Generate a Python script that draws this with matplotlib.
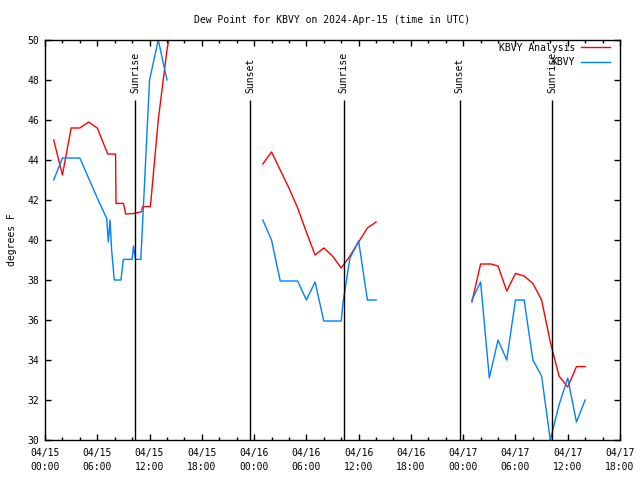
import numpy as np
import matplotlib
matplotlib.use('Agg')
import matplotlib.pyplot as plt

# hours since 2024-04-15 00:00 UTC, nan marks a gap in the record
analysis_hours = [1, 2, 3, 4, 5, 6, 7.2, 8.1, 8.15, 9.0, 9.26, 10.25, 11.1, 11.2, 12.1, 13, 14, 15,
                  np.nan,
                  25, 26, 27, 28, 29, 30, 31, 32, 33, 34, 35, 36, 37, 38,
                  np.nan,
                  49, 50, 51.2, 52, 53, 54, 55, 56, 57, 58, 59, 60, 61, 62]
analysis_dewpt = [45.0, 43.25, 45.6, 45.6, 45.9, 45.6, 44.3, 44.3, 41.83, 41.83, 41.3, 41.33, 41.42, 41.67, 41.67, 46.0, 49.5, 52.0,
                  np.nan,
                  43.8, 44.4, 43.5, 42.6, 41.6, 40.4, 39.25, 39.6, 39.2, 38.6, 39.2, 39.9, 40.6, 40.9,
                  np.nan,
                  36.9, 38.8, 38.8, 38.7, 37.45, 38.33, 38.2, 37.83, 37.0, 34.9, 33.2, 32.65, 33.67, 33.67]

obs_hours = [1, 2, 4, 5, 6, 7.08, 7.27, 7.46, 7.65, 7.95, 8.72, 8.99, 10.0, 10.15, 10.4, 11, 12, 13, 14,
             np.nan,
             25, 26, 27, 28, 29, 30, 31, 32, 33, 34, 34.2, 35, 36, 37, 38,
             np.nan,
             49, 50, 51, 52, 53, 54, 55, 56, 57, 58, 59, 60, 61, 62]
obs_dewpt = [43.0, 44.1, 44.1, 43.1, 42.1, 41.08, 39.9, 41.0, 39.5, 38.0, 38.0, 39.03, 39.03, 39.7, 39.03, 39.03, 48.0, 50.0, 48.0,
             np.nan,
             41.0, 40.0, 37.95, 37.95, 37.95, 37.0, 37.9, 35.95, 35.95, 35.95, 36.85, 39.1, 39.95, 37.0, 37.0,
             np.nan,
             37.0, 37.9, 33.1, 35.0, 34.0, 37.0, 37.0, 34.0, 33.2, 30.0, 31.75, 33.1, 30.9, 32.0]

sun_hours = [10.33, 23.55, 34.3, 47.6, 58.2]
sun_names = ['Sunrise', 'Sunset', 'Sunrise', 'Sunset', 'Sunrise']

tick_hours = list(range(0, 67, 6))
tick_labels = ['04/15\n00:00', '04/15\n06:00', '04/15\n12:00', '04/15\n18:00',
               '04/16\n00:00', '04/16\n06:00', '04/16\n12:00', '04/16\n18:00',
               '04/17\n00:00', '04/17\n06:00', '04/17\n12:00', '04/17\n18:00']

plt.rcParams['font.family'] = ['DejaVu Sans Mono']
plt.rcParams['font.size'] = 7

fig = plt.figure(figsize=(6.4, 4.8), dpi=100)
ax = fig.add_axes([45 / 640, 40 / 480, 575 / 640, 400 / 480])

ax.plot(analysis_hours, analysis_dewpt, color='#ff0000', lw=1.0, label='KBVY Analysis')
ax.plot(obs_hours, obs_dewpt, color='#0080ff', lw=1.0, label='KBVY')

for h, name in zip(sun_hours, sun_names):
    ax.vlines(h, 30, 47.0, color='black', lw=1.0)
    ax.text(h, 47.35, name, rotation=90, ha='center', va='bottom')

ax.set_xlim(0, 66)
ax.set_ylim(30, 50)
ax.set_xticks(tick_hours)
ax.set_xticklabels(tick_labels, linespacing=1.5)
ax.set_xticks(range(0, 67, 2), minor=True)
ax.set_yticks(range(30, 51, 2))
ax.tick_params(which='both', direction='in', top=True, right=True, width=1.0)
ax.tick_params(which='major', length=4)
ax.tick_params(which='minor', length=2.5)
ax.tick_params(axis='x', pad=6)
ax.tick_params(axis='y', pad=4)
for s in ax.spines.values():
    s.set_linewidth(1.0)

ax.set_title('Dew Point for KBVY on 2024-Apr-15 (time in UTC)', fontsize=7, pad=12)
ax.set_ylabel('degrees F')
ax.yaxis.set_label_coords(-0.049, 0.5)

ax.legend(loc='upper right', bbox_to_anchor=(0.983, 0.993), frameon=False,
          markerfirst=False, handlelength=3.0, handletextpad=0.6,
          labelspacing=0.45, borderpad=0, borderaxespad=0)

fig.savefig('out.png', dpi=100)
